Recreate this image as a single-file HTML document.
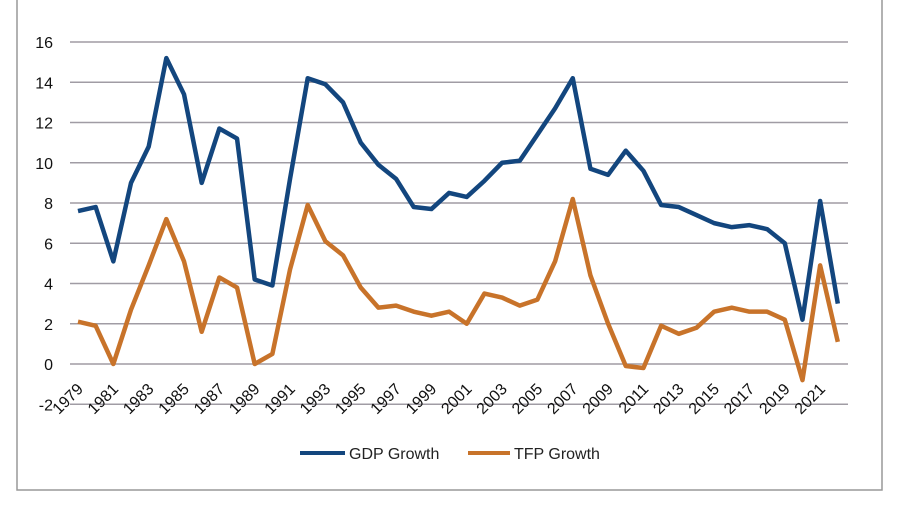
<!DOCTYPE html>
<html><head><meta charset="utf-8"><style>
body{margin:0;background:#fff;}
svg{display:block;font-family:"Liberation Sans",sans-serif;}
</style></head><body>
<svg width="908" height="506" viewBox="0 0 908 506" xmlns="http://www.w3.org/2000/svg">
<rect x="0" y="0" width="908" height="506" fill="#fff"/>
<path d="M17 0 V490 H882 V0" fill="none" stroke="#999" stroke-width="1.5"/>
<g id="grid" stroke="#a09ca4" stroke-width="1.5"></g>
<g id="ylab" font-size="16" fill="#111" text-anchor="end"></g>
<g id="xlab" font-size="16" fill="#111" text-anchor="end"></g>
<polyline id="tfp" fill="none" stroke="#c8732a" stroke-width="4.5" stroke-linejoin="round"/>
<polyline id="gdp" fill="none" stroke="#13467e" stroke-width="4.5" stroke-linejoin="round"/>
<line x1="300" y1="453" x2="345" y2="453" stroke="#13467e" stroke-width="4"/>
<text x="349" y="459" font-size="16" fill="#222">GDP Growth</text>
<line x1="468" y1="453" x2="510" y2="453" stroke="#c8732a" stroke-width="4"/>
<text x="514" y="459" font-size="16" fill="#222">TFP Growth</text>
</svg>
<script>
const ns="http://www.w3.org/2000/svg";
const Y=v=>364-v*20.125, X=i=>78+i*17.67;
const g=document.getElementById('grid'),yl=document.getElementById('ylab'),xl=document.getElementById('xlab');
for(let v=-2;v<=16;v+=2){const l=document.createElementNS(ns,'line');l.setAttribute('x1',70);l.setAttribute('x2',848);l.setAttribute('y1',Y(v));l.setAttribute('y2',Y(v));g.appendChild(l);
const t=document.createElementNS(ns,'text');t.setAttribute('x',53);t.setAttribute('y',Y(v)+6);t.textContent=v;yl.appendChild(t);}
for(let i=0;i<44;i+=2){const t=document.createElementNS(ns,'text');const x=X(i)+6,y=390;t.setAttribute('transform',`translate(${x},${y}) rotate(-45)`);t.textContent=1979+i;xl.appendChild(t);}
const gdp=[7.6,7.8,5.1,9.0,10.8,15.2,13.4,9.0,11.7,11.2,4.2,3.9,9.2,14.2,13.9,13.0,11.0,9.9,9.2,7.8,7.7,8.5,8.3,9.1,10.0,10.1,11.4,12.7,14.2,9.7,9.4,10.6,9.6,7.9,7.8,7.4,7.0,6.8,6.9,6.7,6.0,2.2,8.1,3.0];
const tfp=[2.1,1.9,0.0,2.7,4.9,7.2,5.1,1.6,4.3,3.8,0.0,0.5,4.7,7.9,6.1,5.4,3.8,2.8,2.9,2.6,2.4,2.6,2.0,3.5,3.3,2.9,3.2,5.1,8.2,4.4,2.0,-0.1,-0.2,1.9,1.5,1.8,2.6,2.8,2.6,2.6,2.2,-0.8,4.9,1.1];
document.getElementById('gdp').setAttribute('points',gdp.map((v,i)=>X(i)+','+Y(v)).join(' '));
document.getElementById('tfp').setAttribute('points',tfp.map((v,i)=>X(i)+','+Y(v)).join(' '));
</script>
</body></html>
